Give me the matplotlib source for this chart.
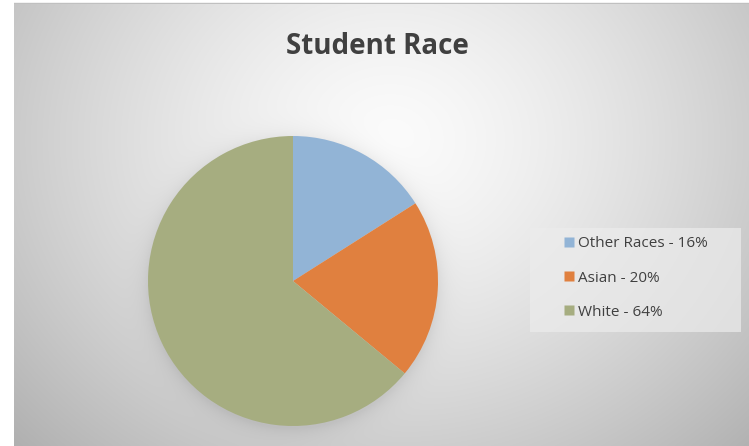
import numpy as np
import matplotlib
matplotlib.use("Agg")
import matplotlib.pyplot as plt
from matplotlib.lines import Line2D

categories = ["Other Races", "Asian", "White"]
values = [16, 20, 64]
colors = ["#92B4D6", "#E0803F", "#A6AD80"]
title = "Student Race"

W, H = 749, 446
fig = plt.figure(figsize=(W / 100, H / 100), dpi=100)
fig.patch.set_facecolor("white")

def px_axes(x0, y0, x1, y1, **kw):
    return fig.add_axes([x0 / W, 1 - y1 / H, (x1 - x0) / W, (y1 - y0) / H], **kw)

# background with radial gradient
bg = px_axes(14, 3, W, H)
bg.set_axis_off()
gx = np.linspace(14, W, 400)
gy = np.linspace(3, H, 300)
X, Y = np.meshgrid(gx, gy)
cx, cy = 390, 140
d = np.sqrt(((X - cx) / 420) ** 2 + ((Y - cy) / 360) ** 2)
val = 0.985 - 0.22 * np.clip(d, 0, 1.3) ** 1.4
# soft shadow around the pie
pcx, pcy, pr = 293, 281, 145
dist = np.sqrt((X - pcx) ** 2 + (Y - (pcy + 3)) ** 2) - pr
shadow = 0.07 * np.exp(-np.clip(dist, 0, None) / 9.0)
val = np.clip(val - shadow, 0, 1)
img = np.dstack([val, val, val])
bg.imshow(img, extent=[0, 1, 0, 1], aspect="auto", origin="upper", interpolation="bilinear")
bg.set_xlim(0, 1)
bg.set_ylim(0, 1)

# top border line
line_ax = px_axes(14, 2, W, 4)
line_ax.set_axis_off()
line_ax.axhline(0.5, color="#c0c0c0", lw=1)

# pie
ax = px_axes(pcx - pr, pcy - pr, pcx + pr, pcy + pr)
ax.pie(values, colors=colors, startangle=90, counterclock=False, radius=1,
       wedgeprops=dict(linewidth=0))
ax.set_xlim(-1, 1)
ax.set_ylim(-1, 1)
ax.set_aspect("equal")
ax.set_axis_off()

# title
fig.text(377 / W, 1 - 46 / H, title, ha="center", va="center",
         fontsize=20, fontweight="bold", color="#404040", family="Open Sans")

# legend box
leg_ax = px_axes(530, 228, 741, 332)
leg_ax.set_axis_off()
leg_ax.add_patch(plt.Rectangle((0, 0), 1, 1, transform=leg_ax.transAxes,
                               facecolor="#ececec", edgecolor="none", alpha=0.7))
handles = [Line2D([], [], marker="s", linestyle="none", markersize=6.5,
                  markerfacecolor=c, markeredgecolor="none") for c in colors]
labels = [f"{c} - {v}%" for c, v in zip(categories, values)]
leg = fig.legend(handles, labels, loc="center left",
                 bbox_to_anchor=(551 / W, 1 - 278 / H), frameon=False,
                 handlelength=0.6, handletextpad=0.25, labelspacing=1.25,
                 prop=dict(family="Open Sans", size=11))
for t in leg.get_texts():
    t.set_color("#404040")

fig.savefig("out.png", dpi=100)
